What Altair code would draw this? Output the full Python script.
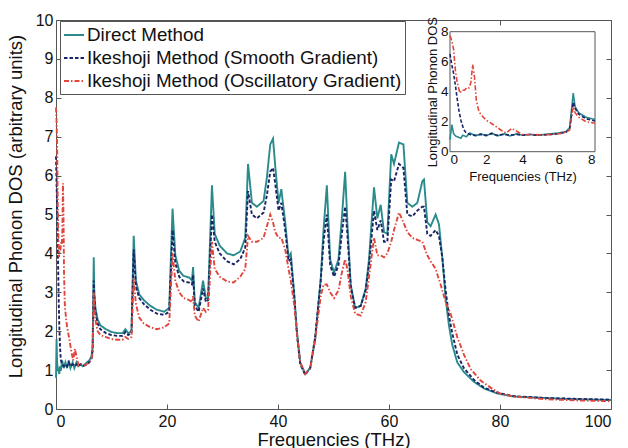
import altair as alt
import pandas as pd

# ---------------- data ----------------
methods = ["Direct Method",
           "Ikeshoji Method (Smooth Gradient)",
           "Ikeshoji Method (Oscillatory Gradient)"]

grid = [0, 0.1, 0.2, 0.3, 0.4, 0.5, 0.6, 0.7, 0.8, 0.9,
        1.1, 1.4, 1.7, 2.0, 2.3, 2.6, 3.0, 3.3, 3.7, 4.0,
        4.4, 4.8, 5.2, 5.6, 6.0, 6.4, 6.6, 6.8, 6.9, 7.1,
        7.5, 8.0, 9, 10, 11, 12, 12.5, 13, 13.6, 14.0,
        14.4, 15, 15.8, 17, 18.2, 19.5, 20.4, 21.0, 21.5, 22.2,
        23, 24.0, 24.5, 24.7, 25.0, 25.7, 26.5, 27.0, 27.4, 28.1,
        28.6, 29.5, 30.8, 32.0, 33.2, 34.1, 34.6, 35.3, 36.2, 37.4,
        38.0, 38.6, 39.1, 39.5, 40.1, 40.6, 41.3, 41.9, 42.3, 42.9,
        43.4, 44.0, 44.9, 45.8, 46.7, 47.7, 48.2, 48.8, 49.4, 50.1,
        50.9, 51.5, 52.1, 52.5, 53.1, 53.9, 54.9, 55.8, 56.4, 57.3,
        57.9, 58.5, 59.1, 59.7, 60.4, 60.9, 61.8, 62.6, 63.3, 64.2,
        65.1, 66.0, 66.3, 66.9, 67.5, 68.4, 69.0, 69.6, 70.2, 70.8,
        71.4, 72.3, 73.5, 75.3, 77.1, 79.5, 82.5, 88.5, 94, 100]

direct_dos = [0.8, 1.8, 1.2, 1.05, 1.0, 0.95, 0.9, 1.1, 1.05, 1.0,
              1.25, 1.05, 1.2, 1.05, 1.25, 1.05, 1.2, 1.05, 1.2, 1.1,
              1.15, 1.1, 1.15, 1.2, 1.25, 1.35, 1.6, 3.9, 3.0, 2.6,
              2.3, 2.15, 2.05, 1.98, 1.95, 1.95, 2.05, 1.95, 2.0, 4.45,
              3.3, 2.95, 2.8, 2.65, 2.55, 2.5, 2.6, 5.15, 3.95, 3.55,
              3.42, 3.38, 3.3, 3.65, 2.75, 2.6, 3.3, 2.85, 2.85, 5.75,
              4.5, 4.2, 4.0, 3.95, 4.05, 4.4, 6.3, 5.3, 5.2, 5.35,
              5.95, 6.8, 6.95, 6.25, 5.3, 5.65, 4.8, 3.9, 4.0, 3.0,
              2.0, 1.2, 0.9, 1.05, 1.8, 3.35, 4.6, 5.75, 3.85, 3.5,
              3.85, 4.9, 6.1, 4.8, 3.2, 2.6, 2.65, 3.1, 3.85, 5.7,
              4.9, 5.25, 4.55, 4.5, 6.55, 6.3, 6.85, 6.8, 5.3, 5.2,
              5.3, 5.85, 5.9, 4.8, 4.7, 5.0, 4.75, 3.9, 2.85, 2.15,
              1.65, 1.2, 0.95, 0.7, 0.53, 0.4, 0.32, 0.28, 0.25, 0.23]

smooth_dos = [6.5, 5.8, 5.2, 4.4, 3.5, 2.7, 2.1, 1.7, 1.4, 1.25,
              1.15, 1.1, 1.15, 1.1, 1.2, 1.1, 1.15, 1.1, 1.15, 1.1,
              1.15, 1.1, 1.12, 1.15, 1.2, 1.3, 1.5, 3.3, 2.9, 2.5,
              2.2, 2.05, 1.95, 1.9, 1.88, 1.88, 1.98, 1.9, 1.95, 4.1,
              3.15, 2.85, 2.7, 2.55, 2.45, 2.42, 2.5, 4.6, 3.75, 3.4,
              3.28, 3.25, 3.2, 3.45, 2.65, 2.5, 3.1, 2.75, 2.8, 5.0,
              4.3, 4.0, 3.8, 3.72, 3.85, 4.15, 5.6, 5.0, 4.9, 5.05,
              5.5, 6.1, 6.2, 5.8, 5.1, 5.3, 4.6, 3.8, 3.85, 2.95,
              1.95, 1.15, 0.88, 1.05, 1.85, 3.3, 4.3, 5.0, 3.7, 3.4,
              3.7, 4.5, 5.2, 4.5, 3.15, 2.6, 2.65, 3.05, 3.7, 5.1,
              4.6, 4.85, 4.3, 4.3, 5.9, 5.85, 6.3, 6.2, 5.0, 4.95,
              5.1, 5.2, 5.2, 4.5, 4.45, 4.6, 4.45, 3.9, 3.05, 2.4,
              1.95, 1.4, 1.05, 0.75, 0.55, 0.42, 0.33, 0.28, 0.26, 0.24]

osc_freq = [0, 0.1, 0.2, 0.3, 0.4, 0.55, 0.65, 0.8, 0.95, 1.05,
            1.15, 1.25, 1.35, 1.45, 1.6, 1.8, 2.0, 2.4, 2.8, 3.1,
            3.4, 3.7, 4.05, 4.5, 5.0, 5.5, 6.0, 6.4, 6.6, 6.8,
            6.9, 7.1, 7.5, 8.0, 9, 10, 11, 12, 12.5, 13,
            13.6, 14.0, 14.4, 15, 15.8, 17, 18.2, 19.5, 20.4, 21.0,
            21.5, 22.2, 23, 24.0, 24.5, 24.7, 25.0, 25.7, 26.5, 27.0,
            27.4, 28.1, 28.6, 29.5, 30.8, 32.0, 33.2, 34.1, 34.6, 35.3,
            36.2, 37.4, 38.0, 38.6, 39.1, 39.5, 40.1, 40.6, 41.3, 41.9,
            42.3, 42.9, 43.4, 44.0, 44.9, 45.8, 46.7, 47.7, 48.2, 48.8,
            49.4, 50.1, 50.9, 51.5, 52.1, 52.5, 53.1, 53.9, 54.9, 55.8,
            56.4, 57.3, 57.9, 58.5, 59.1, 59.7, 60.4, 60.9, 61.8, 62.6,
            63.3, 64.2, 65.1, 66.0, 66.9, 67.5, 68.4, 69.3, 70.2, 71.1,
            72.3, 73.5, 74.7, 76.5, 78.3, 80, 82.5, 88.5, 94, 100]

osc_dos = [7.75, 7.4, 6.8, 5.4, 4.6, 3.9, 4.1, 4.1, 4.3, 4.25,
           4.6, 5.8, 5.0, 3.45, 2.65, 2.35, 2.1, 1.8, 1.45, 1.25,
           1.55, 1.35, 1.12, 1.15, 1.12, 1.15, 1.2, 1.3, 1.45, 3.0,
           2.6, 2.3, 2.0, 1.9, 1.85, 1.8, 1.78, 1.78, 1.85, 1.8,
           1.85, 3.35, 2.7, 2.35, 2.2, 2.1, 2.05, 2.1, 2.2, 4.0,
           3.3, 3.0, 2.85, 2.8, 2.75, 2.9, 2.4, 2.25, 2.6, 2.5,
           2.55, 4.3, 3.6, 3.4, 3.28, 3.25, 3.4, 3.6, 4.45, 4.3,
           4.3, 4.4, 4.7, 5.0, 4.8, 4.55, 4.4, 4.4, 4.1, 3.6,
           3.3, 2.7, 1.95, 1.2, 0.9, 1.05, 1.8, 2.9, 3.2, 3.2,
           3.0, 2.85, 3.05, 3.5, 3.85, 3.6, 2.9, 2.45, 2.4, 2.75,
           3.4, 4.4, 3.95, 3.95, 3.9, 4.0, 4.3, 4.6, 5.05, 4.8,
           4.55, 4.4, 4.35, 4.3, 3.95, 3.8, 3.6, 3.2, 2.75, 2.45,
           1.85, 1.4, 1.03, 0.73, 0.55, 0.4, 0.32, 0.25, 0.22, 0.2]

x_ticks = [0, 20, 40, 60, 80, 100]
y_ticks = [0, 1, 2, 3, 4, 5, 6, 7, 8, 9, 10]
inset_ticks = [0, 2, 4, 6, 8]

assert len(grid) == len(direct_dos) == len(smooth_dos)
assert len(osc_freq) == len(osc_dos)

rows = []
for f, v in zip(grid, direct_dos):
    rows.append({"method": methods[0], "freq": f, "dos": v})
for f, v in zip(grid, smooth_dos):
    rows.append({"method": methods[1], "freq": f, "dos": v})
for f, v in zip(osc_freq, osc_dos):
    rows.append({"method": methods[2], "freq": f, "dos": v})
df = pd.DataFrame(rows)

# ---------------- style ----------------
colors = ["#2a8a8c", "#1b2466", "#e0463c"]
dashes = [[1, 0], [3.5, 2], [5, 2, 1.5, 2]]
FONT = "Liberation Sans"
TXT = "#111111"
FRAME = "#555555"
W, H = 555, 389

x_main = alt.Scale(domain=[0, 100], nice=False)
y_main = alt.Scale(domain=[0, 10], nice=False)

leg = alt.Legend(title=None, orient="none", legendX=4, legendY=1,
                 direction="vertical", strokeColor=FRAME, fillColor="white",
                 padding=3, labelFont=FONT, labelFontSize=18.8, labelColor=TXT,
                 symbolType="stroke", symbolSize=400, symbolStrokeWidth=2,
                 labelLimit=600, rowPadding=2, labelOffset=2, cornerRadius=0)


def tick_axis(orient, offset, vals):
    return alt.Axis(orient=orient, offset=offset, values=vals, labels=False,
                    domain=False, ticks=True, tickSize=5, tickColor=FRAME,
                    title=None, grid=False)


ticks_a = alt.Chart(df).mark_point(opacity=0).encode(
    x=alt.X("freq:Q", scale=x_main, axis=tick_axis("top", -H, x_ticks)),
    y=alt.Y("dos:Q", scale=y_main, axis=tick_axis("right", -W, y_ticks)),
)
ticks_b = alt.Chart(df).mark_point(opacity=0).encode(
    x=alt.X("freq:Q", scale=x_main, axis=tick_axis("bottom", -H, x_ticks)),
    y=alt.Y("dos:Q", scale=y_main, axis=tick_axis("left", -W, y_ticks)),
)

main = alt.Chart(df).mark_line(strokeWidth=1.9).encode(
    x=alt.X("freq:Q", scale=x_main,
            axis=alt.Axis(orient="bottom", values=x_ticks, ticks=False, domain=False,
                          grid=False, labelFont=FONT, labelFontSize=16,
                          labelColor=TXT, labelPadding=4,
                          title="Frequencies (THz)", titleFont=FONT,
                          titleFontSize=18.5, titleFontWeight="normal",
                          titleColor=TXT, titleY=36, titleBaseline="alphabetic")),
    y=alt.Y("dos:Q", scale=y_main,
            axis=alt.Axis(orient="left", values=y_ticks, ticks=False, domain=False,
                          grid=False, labelFont=FONT, labelFontSize=16,
                          labelColor=TXT, labelPadding=3,
                          title="Longitudinal Phonon DOS (arbitrary units)",
                          titleFont=FONT, titleFontSize=18.5,
                          titleFontWeight="normal", titleColor=TXT,
                          titleX=-41, titleY=186, titleBaseline="middle")),
    color=alt.Color("method:N", scale=alt.Scale(domain=methods, range=colors), legend=leg),
    strokeDash=alt.StrokeDash("method:N", scale=alt.Scale(domain=methods, range=dashes), legend=leg),
)

# inset
IX0, IX1 = 394, 539
IY0, IY1 = 11.7, 131.7
inset_frame = alt.Chart(pd.DataFrame({"a": [0]})).mark_rect(
    fill="white", stroke=FRAME, strokeWidth=1
).encode(x=alt.value(IX0), x2=alt.value(IX1), y=alt.value(IY0), y2=alt.value(IY1))

inset_lines = alt.Chart(df).transform_filter("datum.freq <= 8").mark_line(strokeWidth=1.6).encode(
    x=alt.X("freq:Q", scale=alt.Scale(domain=[0, 8], nice=False, range=[IX0, IX1]),
            axis=alt.Axis(orient="bottom", offset=-(H - IY1), values=inset_ticks,
                          ticks=False, domain=False, grid=False, labelFont=FONT,
                          labelFontSize=13.5, labelColor=TXT, labelPadding=1,
                          title="Frequencies (THz)", titleFont=FONT, titleFontSize=13,
                          titleFontWeight="normal", titleColor=TXT, titleY=28.5,
                          titleBaseline="alphabetic")),
    y=alt.Y("dos:Q", scale=alt.Scale(domain=[0, 8], nice=False, range=[IY1, IY0]),
            axis=alt.Axis(orient="left", offset=-IX0, values=inset_ticks,
                          ticks=False, domain=False, grid=False, labelFont=FONT,
                          labelFontSize=13.5, labelColor=TXT, labelPadding=2,
                          title="Longitudinal Phonon DOS", titleFont=FONT,
                          titleFontSize=13, titleFontWeight="normal", titleColor=TXT,
                          titleX=-18, titleBaseline="middle")),
    color=alt.Color("method:N", scale=alt.Scale(domain=methods, range=colors), legend=None),
    strokeDash=alt.StrokeDash("method:N", scale=alt.Scale(domain=methods, range=dashes), legend=None),
)

chart = alt.layer(ticks_a, ticks_b, main, inset_frame, inset_lines).resolve_scale(
    x="independent", y="independent"
).properties(
    width=W, height=H,
    padding={"left": 56, "top": 20, "right": 17, "bottom": 39},
    autosize=alt.AutoSizeParams(type="none"),
    background="white",
).configure_view(stroke=FRAME, strokeWidth=1)

chart.save("out.html", embed_options={"renderer": "svg", "actions": False})
